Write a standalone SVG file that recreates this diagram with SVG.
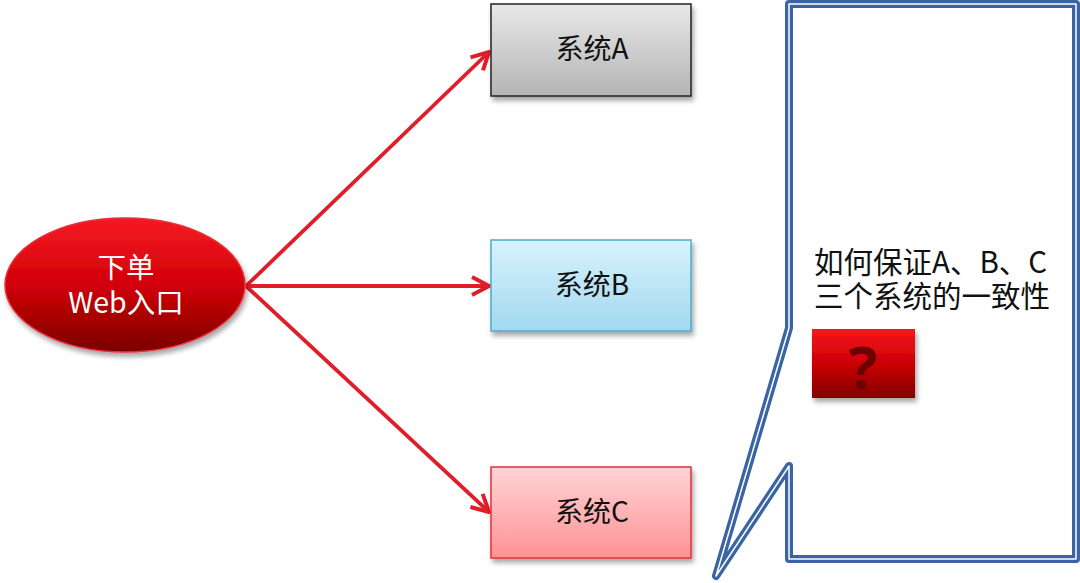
<svg xmlns="http://www.w3.org/2000/svg" width="1080" height="583" viewBox="0 0 1080 583">
<defs>
<linearGradient id="gEll" x1="0" y1="0" x2="0" y2="1"><stop offset="0" stop-color="#f51a22"/><stop offset="0.5" stop-color="#d20008"/><stop offset="1" stop-color="#7a0000"/></linearGradient>
<linearGradient id="gA" x1="0" y1="0" x2="0" y2="1"><stop offset="0" stop-color="#e8e8e8"/><stop offset="1" stop-color="#b4b4b4"/></linearGradient>
<linearGradient id="gB" x1="0" y1="0" x2="0" y2="1"><stop offset="0" stop-color="#d8f3fd"/><stop offset="1" stop-color="#a2d8ee"/></linearGradient>
<linearGradient id="gC" x1="0" y1="0" x2="0" y2="1"><stop offset="0" stop-color="#ffd4d6"/><stop offset="1" stop-color="#ff9294"/></linearGradient>
<linearGradient id="gQ" x1="0" y1="0" x2="0" y2="1"><stop offset="0" stop-color="#f6161e"/><stop offset="0.5" stop-color="#cc0006"/><stop offset="1" stop-color="#820000"/></linearGradient>
<filter id="sh" x="-10%" y="-10%" width="125%" height="130%"><feDropShadow dx="2" dy="4" stdDeviation="2.5" flood-color="#000" flood-opacity="0.35"/></filter>
<marker id="arr" viewBox="0 0 22 22" refX="20" refY="11" markerWidth="22" markerHeight="22" markerUnits="userSpaceOnUse" orient="auto"><path d="M3,2 L20,11 L3,20" fill="none" stroke="#e01e2a" stroke-width="4" stroke-linejoin="miter"/></marker>
<style>
.lbl{font-family:"Noto Sans CJK SC","Noto Sans",sans-serif;font-size:28px;text-anchor:middle;fill:#111}
.wt{font-family:"Noto Sans CJK SC","Noto Sans",sans-serif;font-size:28.5px;text-anchor:middle;fill:#fff}
.note{font-family:"Noto Sans CJK SC","Noto Sans",sans-serif;font-size:29.5px;fill:#111}
.conn{stroke:#e01e2a;stroke-width:3.8;fill:none;marker-end:url(#arr)}
</style>
</defs>
<g id="connectors">
<line class="conn" x1="246" y1="286" x2="489" y2="52"/>
<line class="conn" x1="246" y1="286" x2="489" y2="286"/>
<line class="conn" x1="246" y1="286" x2="489" y2="512"/>
</g>
<g id="node-entry">
<ellipse cx="125" cy="285" rx="120" ry="67" fill="url(#gEll)" stroke="#e5303a" stroke-width="1.5" filter="url(#sh)"/>
<text class="wt" x="126" y="278">下单</text>
<text class="wt" x="126" y="313">Web入口</text>
</g>
<g id="node-a">
<rect x="491" y="4" width="200" height="92" fill="url(#gA)" stroke="#222" stroke-width="1.5" filter="url(#sh)"/>
<text class="lbl" x="592" y="59">系统A</text>
</g>
<g id="node-b">
<rect x="491" y="240" width="200" height="91" fill="url(#gB)" stroke="#4aaec8" stroke-width="1.5" filter="url(#sh)"/>
<text class="lbl" x="592" y="295">系统B</text>
</g>
<g id="node-c">
<rect x="491" y="467" width="200" height="91" fill="url(#gC)" stroke="#e0303a" stroke-width="1.5" filter="url(#sh)"/>
<text class="lbl" x="592" y="522">系统C</text>
</g>
<g id="callout">
<path d="M789,4 L1076,4 L1076,559 L789,559 L789,466 L716,576 L789,328 Z" fill="#fff" stroke="#3b64a2" stroke-width="8" stroke-linejoin="round"/>
<path d="M789,4 L1076,4 L1076,559 L789,559 L789,466 L716,576 L789,328 Z" fill="none" stroke="#fff" stroke-width="1.5" stroke-linejoin="round"/>
<text class="note" x="814" y="273">如何保证A、B、C</text>
<text class="note" x="814" y="307">三个系统的一致性</text>
</g>
<g id="question">
<rect x="812" y="329" width="103" height="69" fill="url(#gQ)" filter="url(#sh)"/>
<text x="863" y="389" font-family="Noto Sans, sans-serif" font-size="60" font-weight="bold" text-anchor="middle" fill="#6e0000">?</text>
</g>
</svg>
